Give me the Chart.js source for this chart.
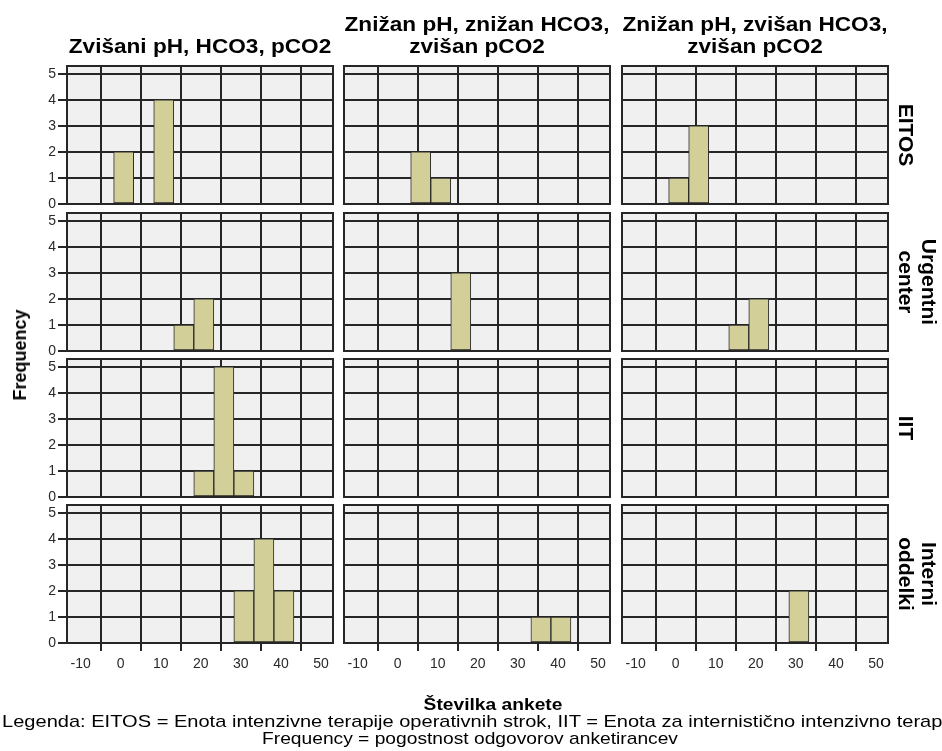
<!DOCTYPE html>
<html>
<head>
<meta charset="utf-8">
<script src="https://cdn.jsdelivr.net/npm/chart.js@4/dist/chart.umd.min.js"></script>
<style>
  html, body { margin: 0; padding: 0; background: #fff; }
  body { width: 942px; height: 751px; position: relative; overflow: hidden;
         font-family: "Liberation Sans", Arial, sans-serif; color: #000; }
  canvas { position: absolute; }
  .lbl { position: absolute; white-space: nowrap; line-height: 1; }
  .title { font-weight: bold; font-size: 20px; text-align: center; line-height: 22px;
           transform: translate(-50%, 0) scaleX(1.13); }
  .row { font-weight: bold; font-size: 21px; text-align: center; line-height: 23px;
         transform: translate(-50%, -50%) rotate(90deg); }
  .ytitle { font-weight: bold; font-size: 18px; transform: translate(-50%, -50%) rotate(-90deg); }
  .xtitle { font-weight: bold; font-size: 17px; transform: translate(-50%, 0) scaleX(1.13); }
  .note { font-size: 17px; line-height: 17px; transform-origin: 0 0; transform: scaleX(1.18); }
  .note.c { transform-origin: 50% 0; transform: translate(-50%, 0) scaleX(1.13); }
</style>
</head>
<body>
<script>
// Histogram of questionnaire numbers, split by acid-base finding (columns)
// and hospital ward (rows). Bins are 5 wide, edges at -1.75 + 5k.
const groups = [
  ["Zvišani pH, HCO3, pCO2"],
  ["Znižan pH, znižan HCO3,", "zvišan pCO2"],
  ["Znižan pH, zvišan HCO3,", "zvišan pCO2"]
];
const wards = [["EITOS"], ["Urgentni", "center"], ["IIT"], ["Interni", "oddelki"]];

const binCenters = [0.75, 5.75, 10.75, 15.75, 20.75, 25.75, 30.75, 35.75, 40.75];
const xTicks = [-10, 0, 10, 20, 30, 40, 50];
const yTicks = [0, 1, 2, 3, 4, 5];

// counts per bin, one array per column group
const countsEITOS    = [[2,0,4,0,0,0,0,0,0], [0,2,1,0,0,0,0,0,0], [1,3,0,0,0,0,0,0,0]];
const countsUrgentni = [[0,0,0,1,2,0,0,0,0], [0,0,0,3,0,0,0,0,0], [0,0,0,1,2,0,0,0,0]];
const countsIIT      = [[0,0,0,0,1,5,1,0,0], [0,0,0,0,0,0,0,0,0], [0,0,0,0,0,0,0,0,0]];
const countsInterni  = [[0,0,0,0,0,0,2,4,2], [0,0,0,0,0,0,0,1,1], [0,0,0,0,0,0,2,0,0]];
const panelCounts = [countsEITOS, countsUrgentni, countsIIT, countsInterni];

const xTitle = "Številka ankete";
const yTitle = "Frequency";
const notes = [
  "Legenda: EITOS = Enota intenzivne terapije operativnih strok, IIT = Enota za internistično intenzivno terapijo",
  "Frequency = pogostnost odgovorov anketirancev"
];

// ---- layout ----
const colLeft = [67, 344, 622];
const rowTop = [66, 213, 359, 505];
const PW = 266, PH = 138;
const PAD = 12, YAX = 30, XAX = 32;
const GRID = '#262626';

const panelFrame = {
  id: 'panelFrame',
  beforeDraw(chart) {
    const { ctx, chartArea: a } = chart;
    ctx.save();
    ctx.fillStyle = '#f0f0f0';
    ctx.fillRect(a.left, a.top, a.width, a.height);
    ctx.restore();
  },
  afterDatasetsDraw(chart) {
    const { ctx, chartArea: a } = chart;
    ctx.save();
    ctx.strokeStyle = GRID;
    ctx.lineWidth = 2;
    ctx.strokeRect(a.left, a.top, a.width, a.height);
    ctx.restore();
  }
};

function addText(cls, html, x, y) {
  const d = document.createElement('div');
  d.className = 'lbl ' + cls;
  d.innerHTML = html;
  d.style.left = x + 'px';
  d.style.top = y + 'px';
  document.body.appendChild(d);
  return d;
}

for (let r = 0; r < 4; r++) {
  for (let c = 0; c < 3; c++) {
    const hasY = c === 0, hasX = r === 3;
    const cv = document.createElement('canvas');
    const w = PW + 2 * PAD + (hasY ? YAX : 0);
    const h = PH + 2 * PAD + (hasX ? XAX : 0);
    cv.width = w; cv.height = h;
    cv.style.width = w + 'px'; cv.style.height = h + 'px';
    cv.style.left = (colLeft[c] - PAD - (hasY ? YAX : 0)) + 'px';
    cv.style.top = (rowTop[r] - PAD) + 'px';
    document.body.appendChild(cv);

    const counts = panelCounts[r][c];
    new Chart(cv, {
      type: 'bar',
      data: {
        datasets: [{
          data: binCenters.map((x, i) => ({ x: x, y: counts[i] > 0 ? counts[i] : null })),
          backgroundColor: '#d3cf98',
          borderColor: '#2a2a2a',
          borderWidth: 1,
          borderSkipped: false,
          barPercentage: 1,
          categoryPercentage: 1
        }]
      },
      options: {
        responsive: false,
        animation: false,
        devicePixelRatio: 1,
        layout: { padding: PAD },
        plugins: { legend: { display: false }, tooltip: { enabled: false } },
        scales: {
          x: {
            type: 'linear', min: -13.4, max: 53, offset: false,
            afterBuildTicks: s => { s.ticks = xTicks.map(v => ({ value: v })); },
            afterFit: s => { s.height = hasX ? XAX : 0; },
            grid: { color: GRID, lineWidth: 2, drawTicks: hasX, tickLength: 8, tickColor: GRID },
            border: { display: false },
            ticks: { display: hasX, color: '#2a2a2a', padding: 5, maxRotation: 0,
                     font: { family: 'Liberation Sans', size: 14 } }
          },
          y: {
            type: 'linear', min: 0, max: 5.3,
            afterBuildTicks: s => { s.ticks = yTicks.map(v => ({ value: v })); },
            afterFit: s => { s.width = hasY ? YAX : 0; },
            grid: { color: GRID, lineWidth: 2, drawTicks: hasY, tickLength: 9, tickColor: GRID },
            border: { display: false },
            ticks: { display: hasY, color: '#2a2a2a', padding: 2,
                     font: { family: 'Liberation Sans', size: 14 } }
          }
        }
      },
      plugins: [panelFrame]
    });
  }
}

// column headers
groups.forEach((lines, c) => {
  const cx = colLeft[c] + PW / 2;
  const top = lines.length === 1 ? 35 : 13;
  addText('title', lines.join('<br>'), cx, top);
});
// row strip labels
wards.forEach((lines, r) => {
  const cy = rowTop[r] + PH / 2;
  const cx = lines.length === 1 ? 906 : 918;
  addText('row', lines.join('<br>'), cx, cy);
});
addText('ytitle', yTitle, 20, 355);
addText('xtitle', xTitle, 493, 696);
addText('note', notes[0], 2, 713);
addText('note c', notes[1], 470, 730);
</script>
</body>
</html>
